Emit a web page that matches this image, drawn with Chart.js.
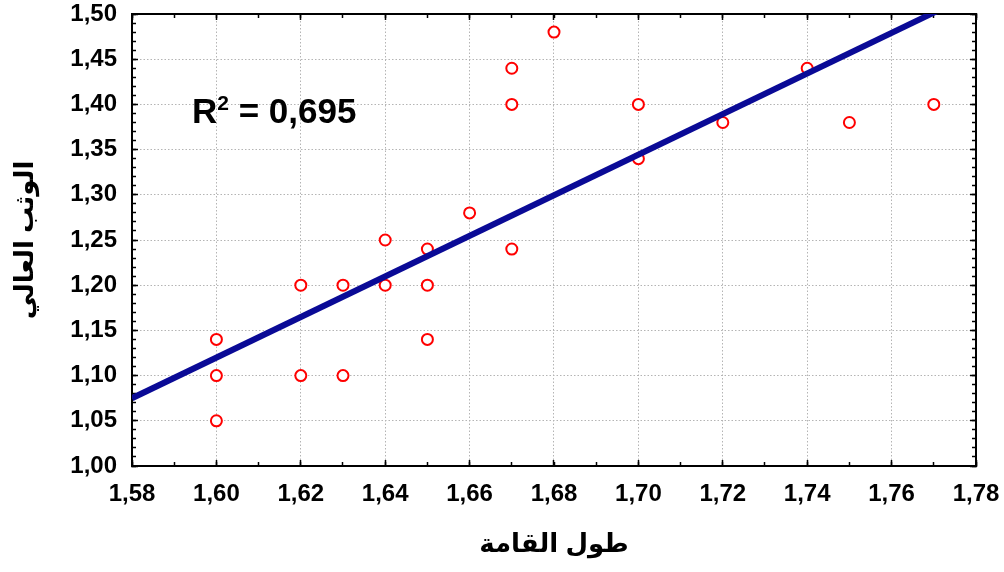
<!DOCTYPE html>
<html>
<head>
<meta charset="utf-8">
<script src="https://cdn.jsdelivr.net/npm/chart.js@4.4.1/dist/chart.umd.min.js"></script>
<style>
  html, body { margin: 0; padding: 0; background: #ffffff; }
  #wrap { width: 1004px; height: 572px; }
</style>
</head>
<body>
<div id="wrap"><canvas id="c" width="1004" height="572"></canvas></div>
<script>
// ---- data ----
const heightValues = [1.60, 1.60, 1.60, 1.62, 1.62, 1.63, 1.63, 1.64, 1.64, 1.65, 1.65, 1.65,
                      1.66, 1.67, 1.67, 1.67, 1.68, 1.70, 1.70, 1.72, 1.74, 1.75, 1.77];
const jumpValues   = [1.14, 1.10, 1.05, 1.20, 1.10, 1.20, 1.10, 1.25, 1.20, 1.24, 1.20, 1.14,
                      1.28, 1.44, 1.40, 1.24, 1.48, 1.40, 1.34, 1.38, 1.44, 1.38, 1.40];
const fitX = [1.58, 1.78];
const fitY = [1.075, 1.524];
const xTickValues = [1.58, 1.60, 1.62, 1.64, 1.66, 1.68, 1.70, 1.72, 1.74, 1.76, 1.78];
const yTickValues = [1.00, 1.05, 1.10, 1.15, 1.20, 1.25, 1.30, 1.35, 1.40, 1.45, 1.50];
const xTitle = 'طول القامة';
const yTitle = 'الوثب العالي';
const r2Label = 'R';
const r2Sup = '2';
const r2Value = ' = 0,695';

// ---- helpers ----
const fmt = v => Number(v).toFixed(2).replace('.', ',');
const scatterPoints = heightValues.map((x, i) => ({ x: x, y: jumpValues[i] }));
const fitPoints = fitX.map((x, i) => ({ x: x, y: fitY[i] }));

const tickFont = { family: "'Liberation Sans', Arial, sans-serif", size: 24, weight: 'bold' };
const xTitleFont = { family: "'Liberation Sans', 'DejaVu Sans', sans-serif", size: 26, weight: 'bold', lineHeight: 1 };
const yTitleFont = { family: "'Liberation Sans', 'DejaVu Sans', sans-serif", size: 26, weight: 'bold', lineHeight: 1 };
const GRID = '#b4b4b4';

function noPad(s) { s.paddingTop = 0; s.paddingBottom = 0; s.paddingLeft = 0; s.paddingRight = 0; }

function minorAxis(axis, position, step, min, max) {
  return {
    type: 'linear', axis: axis, position: position, min: min, max: max,
    weight: 0,
    ticks: { display: false, stepSize: step, autoSkip: false },
    grid: { drawOnChartArea: false, drawTicks: true, tickLength: -4, tickColor: '#000', tickWidth: 1.5 },
    border: { display: false },
    afterFit: s => { if (axis === 'x') s.height = 0; else s.width = 0; noPad(s); }
  };
}
function frameAxis(axis, position, values, min, max) {
  return {
    type: 'linear', axis: axis, position: position, min: min, max: max,
    weight: 0,
    afterBuildTicks: s => { s.ticks = values.map(v => ({ value: v })); },
    ticks: { display: false },
    grid: { drawOnChartArea: false, drawTicks: true, tickLength: -6, tickColor: '#000', tickWidth: 1.5 },
    border: { display: true, color: '#000', width: 2 },
    afterFit: s => { if (axis === 'x') s.height = 0; else s.width = 0; noPad(s); }
  };
}

const r2Plugin = {
  id: 'r2',
  afterDraw(chart) {
    const ctx = chart.ctx;
    const a = chart.chartArea;
    const x0 = a.left + 60, base = a.top + 109;
    ctx.save();
    ctx.fillStyle = '#000';
    ctx.textBaseline = 'alphabetic';
    ctx.textAlign = 'left';
    ctx.font = "bold 35px 'Liberation Sans', Arial, sans-serif";
    ctx.fillText(r2Label, x0, base);
    let x = x0 + ctx.measureText(r2Label).width;
    ctx.font = "bold 21px 'Liberation Sans', Arial, sans-serif";
    ctx.fillText(r2Sup, x, base - 13);
    x += ctx.measureText(r2Sup).width;
    ctx.font = "bold 35px 'Liberation Sans', Arial, sans-serif";
    ctx.fillText(r2Value, x, base);
    ctx.restore();
  }
};

new Chart(document.getElementById('c'), {
  type: 'scatter',
  data: {
    datasets: [
      {
        type: 'line',
        label: 'fit',
        data: fitPoints,
        borderColor: '#0a0a96',
        borderWidth: 6,
        pointRadius: 0,
        fill: false,
        tension: 0,
        clip: 0,
        order: 0,
        xAxisID: 'x', yAxisID: 'y'
      },
      {
        label: 'data',
        data: scatterPoints,
        pointStyle: 'circle',
        pointRadius: 5.5,
        pointBorderWidth: 2,
        borderColor: '#ff0000',
        backgroundColor: '#ffffff',
        pointBackgroundColor: '#ffffff',
        pointBorderColor: '#ff0000',
        order: 1,
        xAxisID: 'x', yAxisID: 'y'
      }
    ]
  },
  options: {
    responsive: false,
    animation: false,
    events: [],
    layout: { padding: { top: 14, right: 28, left: 0, bottom: 0 } },
    plugins: { legend: { display: false }, tooltip: { enabled: false } },
    scales: {
      x: {
        type: 'linear', position: 'bottom', min: 1.58, max: 1.78, weight: 10,
        afterBuildTicks: s => { s.ticks = xTickValues.map(v => ({ value: v })); },
        ticks: { callback: v => fmt(v), font: tickFont, color: '#000', padding: 20, autoSkip: false, maxRotation: 0 },
        grid: { color: GRID, lineWidth: 1, drawTicks: true, tickLength: -6, tickColor: '#000', tickWidth: 1.5 },
        border: { display: true, color: '#000', width: 2, dash: [1.5, 2] },
        title: { display: true, text: xTitle, font: xTitleFont, color: '#000', padding: { top: 0, bottom: 14 } },
        afterFit: s => { s.height = 106; noPad(s); }
      },
      xMinor: minorAxis('x', 'bottom', 0.01, 1.58, 1.78),
      xTop: frameAxis('x', 'top', xTickValues, 1.58, 1.78),
      xTopMinor: minorAxis('x', 'top', 0.01, 1.58, 1.78),
      y: {
        type: 'linear', position: 'left', min: 1.0, max: 1.5, weight: 10,
        afterBuildTicks: s => { s.ticks = yTickValues.map(v => ({ value: v })); },
        ticks: { callback: v => fmt(v), font: tickFont, color: '#000', padding: 21, autoSkip: false },
        grid: { color: GRID, lineWidth: 1, drawTicks: true, tickLength: -6, tickColor: '#000', tickWidth: 1.5 },
        border: { display: true, color: '#000', width: 2, dash: [1.5, 2] },
        title: { display: true, text: yTitle, font: yTitleFont, color: '#000', padding: { top: 13, bottom: 0 } },
        afterFit: s => { s.width = 132; noPad(s); }
      },
      yMinor: minorAxis('y', 'left', 0.01, 1.0, 1.5),
      yRight: frameAxis('y', 'right', yTickValues, 1.0, 1.5),
      yRightMinor: minorAxis('y', 'right', 0.01, 1.0, 1.5)
    }
  },
  plugins: [r2Plugin]
});
</script>
</body>
</html>
